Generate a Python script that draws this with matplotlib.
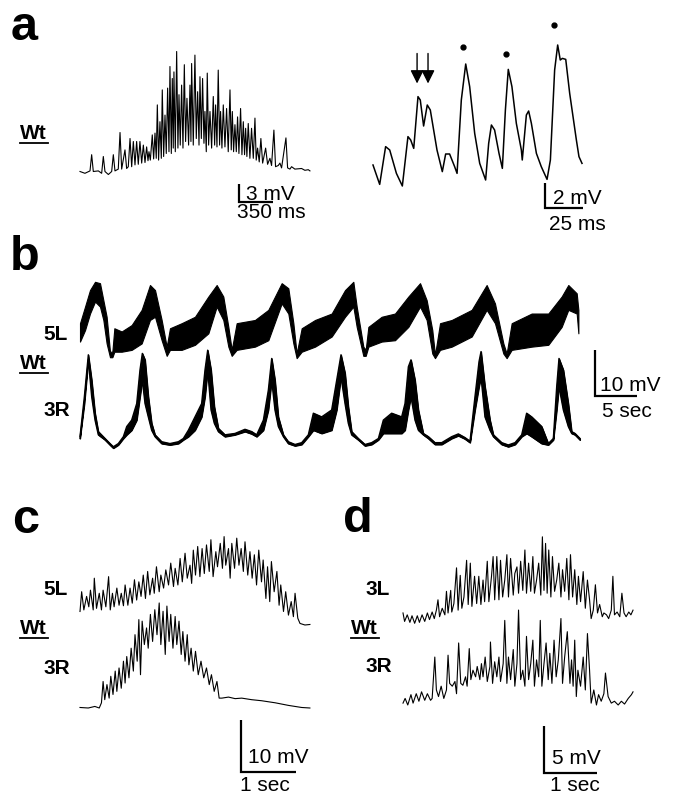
import numpy as np
import matplotlib
matplotlib.use("Agg")
import matplotlib.pyplot as plt
from matplotlib.lines import Line2D

plt.rcParams["font.family"] = ["Liberation Sans", "DejaVu Sans"]

# ---- panel a, left: whole burst (ms, mV)
a_burst_t = [0, 51, 103, 120, 137, 189, 223, 240, 257, 292, 326, 343, 360, 394, 412, 429, 463, 480, 497, 515,
             532, 549, 566, 583, 600, 617, 635, 652, 669, 686, 700, 710, 724, 744, 758, 772, 785, 796, 809, 823,
             837, 847, 861, 875, 888, 902, 916, 926, 940, 950, 960, 967, 981, 995, 1008, 1019, 1032, 1046, 1060, 1074,
             1087, 1101, 1118, 1132, 1142, 1149, 1166, 1183, 1197, 1211, 1225, 1235, 1249, 1262, 1276, 1286, 1300, 1310, 1324, 1338,
             1355, 1372, 1386, 1396, 1410, 1423, 1437, 1447, 1461, 1475, 1492, 1509, 1526, 1544, 1557, 1568, 1581, 1595, 1609, 1622,
             1636, 1653, 1667, 1681, 1694, 1705, 1718, 1732, 1749, 1766, 1784, 1801, 1814, 1828, 1845, 1862, 1880, 1911, 1931, 1955,
             1972, 1996, 2013, 2041, 2058, 2075, 2120, 2137, 2161, 2178, 2212, 2281, 2315, 2350, 2367]
a_burst_v = [0.3, 0.0, 0.4, 3.1, 0.3, 0.4, 0.0, 2.8, 0.3, -0.2, 0.3, 3.1, 0.4, 0.7, 6.8, 0.7, 3.9, 0.8, 1.1, 5.8,
             1.1, 5.3, 1.4, 5.3, 1.5, 5.3, 1.7, 4.7, 1.8, 4.4, 2.1, 3.6, 2.2, 6.4, 2.4, 6.7, 2.5, 11.4, 2.2, 8.6,
             2.5, 13.9, 2.8, 9.7, 3.3, 14.2, 3.6, 17.8, 3.3, 15.8, 4.2, 16.9, 3.6, 20.3, 4.2, 13.1, 4.7, 14.7, 4.2, 18.1,
             5.3, 12.5, 4.7, 14.7, 5.3, 18.3, 4.7, 19.7, 5.8, 13.6, 4.7, 16.1, 5.8, 15.8, 5.0, 10.3, 3.6, 16.7, 4.7, 10.3,
             4.2, 12.8, 4.7, 11.4, 4.4, 17.2, 4.7, 10.3, 4.2, 11.4, 4.4, 10.8, 3.6, 13.9, 3.9, 10.3, 3.6, 8.1, 3.6, 9.4,
             3.3, 10.8, 3.1, 8.6, 3.1, 7.5, 2.8, 8.3, 2.5, 7.5, 2.5, 9.2, 2.2, 4.2, 1.9, 5.8, 1.7, 4.2, 1.5, 2.5,
             1.3, 7.2, 1.1, 1.3, 1.7, 0.9, 5.9, 0.9, 0.7, 1.1, 0.7, 0.8, 0.5, 0.6, 0.4]

# ---- panel a, right: expanded part of the burst (ms, mV)
a_zoom_t = [0, 4.4, 8.3, 11.0, 15.4, 19.3, 23.0, 24.8, 26.8, 29.6, 31.1, 33.3, 35.7, 37.7, 42.1, 45.6, 47.8, 50.4,
            53.7, 55.3, 58.1, 61.0, 63.6, 66.9, 70.2, 74.1, 76.1, 77.9, 80.0, 82.9, 85.1, 87.1, 89.0, 91.4, 94.3,
            97.6, 98.2, 100.9, 102.4, 104.2, 107.5, 110.7, 114.5, 116.7, 119.5, 121.5, 123.2, 124.6, 126.8, 129.4,
            133.8, 135.5, 137.5]
a_zoom_v = [1.68, 0.13, 3.15, 2.88, 1.01, 0.0, 3.95, 3.68, 3.01, 7.15, 6.88, 4.80, 6.48, 6.08, 2.88, 1.15, 2.56, 2.56,
            1.55, 1.01, 6.88, 9.76, 7.95, 4.21, 1.81, 0.48, 3.41, 4.88, 4.48, 2.61, 1.41, 6.08, 9.33, 7.95, 5.01,
            2.88, 2.08, 5.68, 6.00, 5.01, 2.61, 1.55, 0.53, 2.08, 9.28, 11.28, 10.08, 10.21, 10.13, 7.41,
            3.68, 2.35, 1.81]
a_arrow_t = [29.0, 36.2]
a_dot_t = [59.2, 87.5, 119.0]
a_dot_v = [11.1, 10.6, 12.9]

# ---- panel b: slow rhythm, envelope of the band (s, mV)
b_5L_t = [0.00, 0.60, 1.19, 1.79, 2.38, 2.78, 3.17, 3.57, 3.85, 4.09, 4.96, 6.15, 7.34, 8.33, 8.93, 9.72, 10.32,
          10.71, 12.10, 13.69, 15.28, 16.27, 17.06, 17.66, 18.06, 18.65, 20.83, 22.42, 24.01, 24.80, 25.40, 25.79,
          26.39, 27.98, 29.96, 31.55, 32.54, 32.94, 33.73, 34.01, 34.33, 35.91, 37.50, 39.09, 40.48, 41.27, 41.94,
          42.26, 42.86, 44.25, 46.63, 48.41, 49.40, 50.40, 50.79, 51.39, 53.77, 55.75, 57.34, 58.13, 59.13, 59.33]
b_5L_hi = [8.0, 11.6, 15.2, 17.0, 16.7, 13.0, 9.4, 1.8, 1.8, 6.9, 6.2, 7.6, 10.9, 16.3, 15.2, 8.7, 2.9, 6.9, 8.0,
           9.4, 13.8, 16.3, 13.8, 7.2, 2.2, 8.0, 8.7, 10.9, 16.7, 15.6, 8.0, 1.4, 6.9, 8.7, 10.1, 15.2, 17.0, 11.6,
           2.9, 2.2, 7.2, 9.4, 10.1, 13.8, 16.7, 13.0, 6.5, 1.1, 8.0, 8.7, 10.9, 16.3, 12.3, 3.6, 1.4, 8.0, 10.1,
           10.1, 13.8, 16.3, 14.5, 10.9]
b_5L_lo = [4.0, 6.5, 10.1, 12.7, 11.6, 8.7, 3.6, 0.6, 0.6, 1.8, 1.8, 2.2, 3.6, 8.7, 9.4, 4.3, 0.9, 2.2, 2.2, 3.3,
           5.8, 11.6, 8.7, 2.9, 0.9, 2.2, 2.9, 4.3, 12.3, 10.1, 3.6, 0.4, 1.8, 2.9, 5.1, 9.4, 11.6, 7.2, 0.9, 0.9,
           2.9, 4.0, 4.3, 7.2, 11.6, 8.7, 1.4, 0.4, 2.2, 2.9, 5.1, 10.9, 8.0, 1.4, 0.4, 2.2, 2.9, 3.3, 7.2, 10.9,
           10.1, 5.8]
b_3R_t = [0.00, 0.52, 0.99, 1.39, 1.79, 2.18, 2.98, 3.57, 3.97, 4.56, 5.16, 5.56, 6.15, 6.75, 7.14, 7.42, 7.74,
          8.13, 8.53, 8.93, 9.72, 10.71, 11.71, 12.30, 12.90, 13.69, 14.48, 14.88, 15.20, 15.60, 15.99, 16.47,
          17.26, 18.45, 19.64, 20.44, 21.03, 21.83, 22.42, 22.82, 23.21, 23.61, 24.21, 24.80, 25.60, 26.39, 27.18,
          27.78, 28.77, 29.96, 30.56, 31.07, 31.55, 31.94, 32.34, 33.13, 33.93, 34.72, 35.52, 36.11, 37.10, 38.29,
          38.69, 39.09, 39.40, 39.88, 40.28, 40.87, 41.47, 42.26, 43.06, 44.25, 45.04, 45.83, 46.43, 47.02, 47.50,
          47.74, 48.21, 48.81, 49.21, 50.20, 50.99, 51.79, 52.58, 53.17, 53.77, 54.96, 55.75, 56.35, 56.75, 57.02,
          57.54, 58.13, 58.53, 58.93, 59.52]
b_3R_hi = [2.9, 11.6, 20.7, 15.2, 8.0, 4.0, 2.5, 1.4, 0.7, 1.4, 2.9, 5.1, 6.5, 10.1, 17.4, 21.0, 19.6, 11.6, 5.8,
           3.3, 1.8, 1.4, 1.8, 2.5, 4.3, 7.2, 10.1, 17.4, 21.7, 17.4, 9.4, 4.7, 3.3, 3.6, 4.5, 4.0, 3.3, 6.5, 13.0,
           19.9, 15.2, 7.2, 3.3, 1.8, 1.2, 1.6, 3.3, 8.0, 7.2, 8.7, 15.2, 20.7, 16.7, 9.4, 4.0, 2.5, 1.2, 1.6, 2.5,
           6.5, 8.0, 7.2, 10.1, 18.1, 19.6, 15.2, 8.7, 3.6, 2.9, 1.6, 1.6, 2.9, 3.5, 2.7, 1.9, 11.6, 19.2, 21.4,
           13.8, 6.5, 3.3, 1.6, 1.1, 1.6, 3.3, 8.0, 7.2, 5.1, 1.4, 2.5, 13.8, 19.9, 17.4, 10.1, 4.0, 3.6, 2.5]
b_3R_lo = [2.5, 10.1, 19.6, 11.6, 6.5, 3.3, 2.2, 1.1, 0.4, 1.1, 2.5, 3.3, 4.3, 6.5, 11.6, 15.2, 10.1, 7.2, 4.3,
           2.9, 1.4, 1.1, 1.4, 2.2, 2.9, 4.3, 7.2, 11.6, 17.4, 8.7, 5.8, 4.0, 2.9, 3.3, 4.0, 3.5, 2.9, 4.3, 8.7,
           15.2, 8.7, 5.1, 2.9, 1.4, 0.9, 1.2, 2.9, 4.3, 3.6, 4.3, 8.7, 15.9, 10.1, 5.8, 3.3, 2.2, 0.9, 1.2, 2.2,
           3.6, 3.6, 3.6, 4.3, 8.7, 11.6, 6.5, 4.3, 3.3, 2.5, 1.2, 1.2, 2.5, 3.1, 2.4, 1.6, 8.7, 13.8, 15.9, 7.2,
           4.3, 2.9, 1.2, 0.7, 1.2, 2.9, 3.6, 2.9, 1.4, 1.1, 2.2, 8.7, 13.8, 8.7, 5.1, 3.6, 3.3, 2.2]

# ---- panel c: single bursts, 5L and 3R (s, mV)
c_5L_t = [0.00, 0.03, 0.07, 0.12, 0.16, 0.19, 0.24, 0.26, 0.30, 0.35, 0.39, 0.42, 0.47, 0.52, 0.55, 0.59, 0.62,
          0.67, 0.71, 0.75, 0.79, 0.82, 0.87, 0.91, 0.95, 0.99, 1.03, 1.07, 1.11, 1.15, 1.19, 1.23, 1.27, 1.32,
          1.35, 1.39, 1.44, 1.47, 1.52, 1.56, 1.61, 1.65, 1.70, 1.73, 1.78, 1.82, 1.86, 1.91, 1.95, 2.00, 2.03,
          2.06, 2.10, 2.14, 2.18, 2.22, 2.26, 2.30, 2.35, 2.38, 2.42, 2.47, 2.50, 2.55, 2.59, 2.62, 2.65, 2.70,
          2.73, 2.76, 2.81, 2.85, 2.89, 2.93, 2.97, 3.00, 3.05, 3.09, 3.13, 3.17, 3.21, 3.25, 3.30, 3.33, 3.38,
          3.41, 3.45, 3.48, 3.53, 3.58, 3.62, 3.65, 3.70, 3.74, 3.79, 3.84, 3.88, 3.91, 3.96, 4.00, 4.09, 4.18]
c_5L_v = [2.6, 6.4, 2.9, 5.5, 3.5, 6.7, 2.9, 9.0, 3.2, 6.1, 2.9, 6.7, 3.5, 9.3, 2.9, 6.1, 3.5, 7.1, 3.8, 6.1,
          3.7, 7.7, 3.8, 7.1, 4.2, 8.7, 4.8, 8.3, 5.5, 9.6, 5.1, 10.3, 5.8, 9.0, 6.1, 11.2, 6.4, 9.6, 7.1, 10.6,
          7.7, 11.9, 7.4, 10.9, 7.7, 12.8, 8.3, 13.8, 9.0, 11.5, 8.0, 14.4, 9.6, 15.1, 9.3, 14.7, 9.9, 15.4, 10.3,
          16.4, 9.3, 14.1, 11.2, 15.7, 10.9, 17.0, 11.5, 14.7, 9.0, 15.7, 10.9, 16.7, 11.5, 14.7, 10.3, 16.0, 9.6,
          14.1, 9.0, 13.5, 7.7, 14.4, 8.3, 12.5, 5.1, 11.2, 4.5, 12.2, 6.4, 10.3, 3.8, 7.7, 2.6, 6.4, 1.9, 4.5,
          1.6, 6.1, 1.3, 0.3, 0.0, 0.1]
c_3R_t = [0.00, 0.15, 0.27, 0.35, 0.39, 0.42, 0.45, 0.49, 0.53, 0.56, 0.60, 0.64, 0.67, 0.71, 0.75, 0.79, 0.82,
          0.85, 0.89, 0.93, 0.97, 1.00, 1.04, 1.07, 1.10, 1.13, 1.17, 1.21, 1.24, 1.28, 1.32, 1.36, 1.40, 1.44,
          1.47, 1.51, 1.55, 1.58, 1.62, 1.65, 1.69, 1.73, 1.76, 1.80, 1.84, 1.87, 1.91, 1.95, 1.98, 2.02, 2.06,
          2.10, 2.15, 2.20, 2.25, 2.30, 2.35, 2.39, 2.44, 2.49, 2.53, 2.58, 2.70, 2.82, 2.94, 3.12, 3.30, 3.55,
          3.79, 4.03, 4.18]
c_3R_v = [0.1, 0.0, 0.3, 0.0, 1.0, 5.1, 1.6, 4.5, 1.9, 6.1, 2.6, 7.1, 3.2, 7.7, 3.8, 9.0, 4.8, 9.9, 5.8, 11.5,
          7.1, 14.1, 9.0, 17.0, 6.4, 16.7, 12.2, 15.4, 11.5, 18.0, 12.8, 18.9, 14.1, 20.2, 12.2, 18.6, 10.3, 19.6,
          12.8, 18.0, 11.5, 17.6, 12.2, 16.7, 10.3, 14.7, 9.0, 14.1, 8.3, 11.5, 7.1, 10.9, 6.4, 9.0, 5.8, 7.7, 4.5,
          6.4, 3.2, 5.1, 1.9, 1.9, 2.1, 1.8, 1.9, 1.6, 1.4, 1.0, 0.5, 0.1, 0.0]

# ---- panel d: single bursts, 3L and 3R (s, mV)
d_3L_t = [0.00, 0.03, 0.08, 0.13, 0.17, 0.22, 0.27, 0.31, 0.36, 0.41, 0.46, 0.50, 0.55, 0.59, 0.63, 0.66, 0.69,
          0.74, 0.79, 0.82, 0.85, 0.90, 0.92, 0.96, 1.01, 1.04, 1.08, 1.11, 1.15, 1.20, 1.23, 1.27, 1.30, 1.35,
          1.39, 1.43, 1.47, 1.51, 1.54, 1.59, 1.62, 1.67, 1.70, 1.73, 1.77, 1.81, 1.84, 1.88, 1.92, 1.96, 1.99,
          2.03, 2.08, 2.11, 2.15, 2.18, 2.22, 2.26, 2.30, 2.33, 2.37, 2.41, 2.45, 2.48, 2.52, 2.56, 2.60, 2.63,
          2.66, 2.69, 2.72, 2.75, 2.79, 2.82, 2.86, 2.90, 2.94, 2.98, 3.01, 3.05, 3.09, 3.13, 3.16, 3.20, 3.24,
          3.28, 3.31, 3.35, 3.40, 3.44, 3.48, 3.52, 3.55, 3.59, 3.63, 3.67, 3.71, 3.76, 3.79, 3.84, 3.88, 3.93,
          3.96, 3.99, 4.04, 4.09, 4.13, 4.17, 4.21, 4.26, 4.30, 4.34]
d_3L_v = [1.1, 0.2, 0.9, 0.1, 0.8, 0.0, 0.8, 0.1, 0.9, 0.2, 1.1, 0.4, 1.2, 0.5, 1.4, 2.5, 0.7, 1.6, 0.9, 3.4,
          1.1, 3.5, 1.2, 2.1, 5.9, 1.4, 5.1, 1.6, 2.8, 6.7, 2.0, 6.4, 1.8, 5.0, 2.1, 5.0, 2.0, 4.6, 2.3, 6.6,
          2.3, 5.0, 7.1, 2.5, 7.1, 2.5, 6.7, 2.8, 4.6, 7.3, 2.8, 6.9, 3.0, 5.3, 6.0, 3.2, 6.6, 3.5, 7.8, 3.2,
          6.4, 3.4, 7.1, 3.2, 4.6, 6.4, 3.0, 9.2, 3.5, 8.5, 3.2, 7.8, 2.8, 7.1, 3.4, 4.6, 6.4, 2.8, 5.7, 3.4,
          6.9, 2.5, 7.3, 2.8, 5.7, 2.0, 5.0, 2.3, 5.5, 1.6, 4.6, 2.5, 0.5, 1.4, 4.1, 1.1, 2.0, 0.7, 1.1, 0.9,
          0.5, 1.4, 5.0, 0.9, 1.2, 0.7, 3.2, 1.1, 0.7, 1.2, 0.9, 1.4]
d_3R_t = [0.00, 0.04, 0.09, 0.15, 0.19, 0.25, 0.30, 0.35, 0.41, 0.46, 0.52, 0.55, 0.60, 0.63, 0.67, 0.72, 0.77,
          0.82, 0.85, 0.88, 0.93, 0.98, 1.01, 1.05, 1.09, 1.13, 1.18, 1.21, 1.25, 1.28, 1.32, 1.37, 1.40, 1.45,
          1.48, 1.51, 1.55, 1.59, 1.64, 1.65, 1.69, 1.73, 1.77, 1.81, 1.84, 1.89, 1.92, 1.96, 1.99, 2.03, 2.08,
          2.11, 2.15, 2.18, 2.22, 2.26, 2.30, 2.33, 2.37, 2.41, 2.45, 2.48, 2.52, 2.56, 2.59, 2.62, 2.66, 2.70,
          2.74, 2.77, 2.81, 2.85, 2.89, 2.93, 2.98, 3.01, 3.05, 3.10, 3.15, 3.18, 3.21, 3.24, 3.27, 3.30, 3.35,
          3.40, 3.44, 3.48, 3.52, 3.55, 3.60, 3.65, 3.69, 3.74, 3.79, 3.82, 3.87, 3.93, 3.99, 4.06, 4.12, 4.18,
          4.25, 4.31, 4.34]
d_3R_v = [0.2, 0.7, 0.0, 1.1, 0.2, 1.2, 0.4, 1.4, 0.5, 1.2, 0.5, 0.7, 5.1, 1.6, 0.9, 2.0, 0.7, 1.6, 5.3, 2.3,
          2.0, 2.5, 1.2, 6.6, 2.3, 2.1, 3.0, 2.0, 6.0, 2.7, 3.7, 3.0, 4.1, 2.7, 4.4, 3.0, 5.1, 2.5, 4.1, 6.7,
          2.3, 4.6, 3.0, 5.1, 2.5, 4.4, 9.0, 2.3, 5.1, 2.7, 5.9, 2.0, 4.4, 10.1, 2.7, 3.7, 2.0, 7.3, 2.7, 4.4,
          6.9, 2.0, 4.8, 3.0, 9.0, 2.0, 4.4, 6.6, 2.7, 5.5, 2.3, 6.9, 3.0, 4.8, 9.2, 2.3, 5.1, 7.8, 2.3, 4.8,
          2.0, 6.9, 0.9, 3.7, 2.0, 5.1, 1.6, 7.6, 3.7, 0.2, 1.6, 0.0, 1.1, 0.4, 1.2, 3.4, 0.9, 0.2, 0.4, 0.0,
          0.4, 0.1, 0.7, 1.1, 1.4]

W, H = 673, 797
fig = plt.figure(figsize=(W / 100, H / 100), dpi=100)


def trace_axes(x0, y0, sx, sy, xlim, ylim):
    # x0, y0: figure pixel (from top left) where data (0, 0) sits; sx, sy: pixels per unit
    left = x0 + xlim[0] * sx
    top = y0 - ylim[1] * sy
    w = (xlim[1] - xlim[0]) * sx
    h = (ylim[1] - ylim[0]) * sy
    ax = fig.add_axes([left / W, 1 - (top + h) / H, w / W, h / H])
    ax.set_xlim(*xlim)
    ax.set_ylim(*ylim)
    ax.axis("off")
    return ax


def scale_bar(ax, x, y, dx, dy, vtxt, htxt, vpos, hpos):
    ax.plot([x, x, x + dx], [y + dy, y, y], color="k", lw=1.6, clip_on=False,
            solid_joinstyle="miter", solid_capstyle="butt")
    ax.text(vpos[0], vpos[1], vtxt, fontsize=15, va="baseline", clip_on=False)
    ax.text(hpos[0], hpos[1], htxt, fontsize=15, va="baseline", clip_on=False)


def label(x, y, s, size=15):
    fig.text(x / W, 1 - y / H, s, fontsize=size, fontweight="bold", va="baseline", ha="left")


def wt(x, y):
    label(x, y, "Wt")
    fig.add_artist(Line2D([x / W, (x + 28) / W], [1 - (y + 4) / H] * 2, color="k", lw=1.3))


# panel letters
label(11, 40, "a", 35)
label(10, 270, "b", 35)
label(12, 533, "c", 35)
label(343, 532, "d", 35)

# ---- a
ax = trace_axes(80, 173.3, 34 / 350, 6, (-100, 2500), (-9, 22))
ax.plot(a_burst_t, a_burst_v, color="k", lw=0.8)
scale_bar(ax, 1637, -4.8, 350, 3, "3 mV", "350 ms", (1709, -4.45), (1616, -7.45))
wt(20, 139)

ax = trace_axes(373, 186, 1.52, 12.5, (-5, 160), (-4, 14))
ax.plot(a_zoom_t, a_zoom_v, color="k", lw=1.1)
ax.plot(a_dot_t, a_dot_v, "o", color="k", ms=3.5)
for t in a_arrow_t:
    ax.annotate("", xy=(t, 8.2), xytext=(t, 10.6),
                arrowprops=dict(arrowstyle="-|>", color="k", lw=1.0, mutation_scale=20,
                                shrinkA=0, shrinkB=0))
scale_bar(ax, 113, -1.76, 25, 2, "2 mV", "25 ms", (118.4, -1.44), (115.8, -3.5))

# ---- b
ax = trace_axes(80, 360, 8.4, 4.6, (-1, 64), (-1, 19))
ax.fill_between(b_5L_t, b_5L_lo, b_5L_hi, color="k", lw=0.8)
ax = trace_axes(80, 450, 8.4, 4.6, (-1, 70), (-1, 23))
ax.fill_between(b_3R_t, b_3R_lo, b_3R_hi, color="k", lw=0.8)
ax.plot(b_3R_t, b_3R_hi, color="k", lw=1.0)
ax.plot(b_3R_t, b_3R_lo, color="k", lw=1.0)
scale_bar(ax, 61.3, 11.7, 5, 10, "10 mV", "5 sec", (61.9, 12.9), (62.1, 7.2))
label(43, 340, "5L")
wt(20, 369)
label(43, 416, "3R")

# ---- c
ax = trace_axes(80, 625, 55, 5.2, (-0.1, 4.4), (-2, 18))
ax.plot(c_5L_t, c_5L_v, color="k", lw=0.8)
ax = trace_axes(80, 708, 55, 5.2, (-0.1, 4.4), (-2, 21))
ax.plot(c_3R_t, c_3R_v, color="k", lw=0.8)
scale_bar(ax, 2.93, -12.3, 1, 10, "10 mV", "1 sec", (3.05, -10.6), (2.91, -16.0))
label(43, 595, "5L")
wt(20, 634)
label(43, 674, "3R")

# ---- d
ax = trace_axes(403, 623.3, 53, 9.4, (-0.1, 4.5), (-1, 10))
ax.plot(d_3L_t, d_3L_v, color="k", lw=0.8)
ax = trace_axes(403, 705, 53, 9.4, (-0.1, 4.5), (-1, 11))
ax.plot(d_3R_t, d_3R_v, color="k", lw=0.8)
scale_bar(ax, 2.66, -7.2, 1, 5, "5 mV", "1 sec", (2.81, -6.3), (2.77, -9.2))
label(366, 595, "3L")
wt(351, 634)
label(366, 672, "3R")

fig.savefig("out.png", dpi=100)
